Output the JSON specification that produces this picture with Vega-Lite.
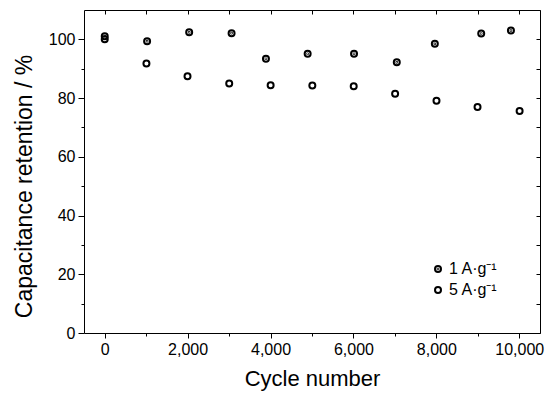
{
  "$schema": "https://vega.github.io/schema/vega-lite/v6.json",
  "width": 456,
  "height": 323,
  "autosize": {"type": "none"},
  "padding": {"left": 84, "top": 10, "right": 10, "bottom": 62},
  "background": "white",
  "config": {
    "font": "Liberation Sans",
    "view": {"stroke": null},
    "axis": {"grid": false, "domainColor": "black", "tickColor": "black", "labelColor": "black", "titleColor": "black", "labelFontSize": 16, "titleFontSize": 22, "titleFontWeight": "normal", "domainWidth": 1, "tickWidth": 1}
  },
  "data": {
    "values": [
      {"cycle": 0, "retention": 101.1, "series": "1 A·g⁻¹"},
      {"cycle": 1022, "retention": 99.4, "series": "1 A·g⁻¹"},
      {"cycle": 2037, "retention": 102.4, "series": "1 A·g⁻¹"},
      {"cycle": 3060, "retention": 102.1, "series": "1 A·g⁻¹"},
      {"cycle": 3889, "retention": 93.4, "series": "1 A·g⁻¹"},
      {"cycle": 4895, "retention": 95.1, "series": "1 A·g⁻¹"},
      {"cycle": 6014, "retention": 95.1, "series": "1 A·g⁻¹"},
      {"cycle": 7045, "retention": 92.2, "series": "1 A·g⁻¹"},
      {"cycle": 7963, "retention": 98.5, "series": "1 A·g⁻¹"},
      {"cycle": 9082, "retention": 102.0, "series": "1 A·g⁻¹"},
      {"cycle": 9799, "retention": 103.0, "series": "1 A·g⁻¹"},
      {"cycle": 0, "retention": 100.0, "series": "5 A·g⁻¹"},
      {"cycle": 1006, "retention": 91.8, "series": "5 A·g⁻¹"},
      {"cycle": 1997, "retention": 87.4, "series": "5 A·g⁻¹"},
      {"cycle": 3003, "retention": 85.0, "series": "5 A·g⁻¹"},
      {"cycle": 4002, "retention": 84.4, "series": "5 A·g⁻¹"},
      {"cycle": 5008, "retention": 84.3, "series": "5 A·g⁻¹"},
      {"cycle": 6006, "retention": 84.0, "series": "5 A·g⁻¹"},
      {"cycle": 7005, "retention": 81.5, "series": "5 A·g⁻¹"},
      {"cycle": 8003, "retention": 79.1, "series": "5 A·g⁻¹"},
      {"cycle": 8993, "retention": 77.0, "series": "5 A·g⁻¹"},
      {"cycle": 10008, "retention": 75.6, "series": "5 A·g⁻¹"}
    ]
  },
  "resolve": {"axis": {"x": "independent", "y": "independent"}},
  "layer": [
    {
      "mark": {"type": "point", "filled": false, "stroke": "black", "strokeWidth": 2, "size": 36, "opacity": 1},
      "encoding": {
        "x": {"field": "cycle", "type": "quantitative", "scale": {"domain": [-500, 10500], "nice": false, "zero": false},
          "axis": {"orient": "bottom", "title": "Cycle number", "values": [0, 2000, 4000, 6000, 8000, 10000], "format": ",.0f", "tickSize": 5, "labelPadding": 3, "titlePadding": 11}},
        "y": {"field": "retention", "type": "quantitative", "scale": {"domain": [0, 110], "nice": false},
          "axis": {"orient": "left", "title": "Capacitance retention / %", "titleFontSize": 23, "values": [0, 20, 40, 60, 80, 100], "tickSize": 6, "labelPadding": 3, "titleX": -60, "titleY": 176, "titleBaseline": "middle"}},
        "shape": {"field": "series", "type": "nominal",
          "scale": {"domain": ["1 A·g⁻¹", "5 A·g⁻¹"], "range": ["M-1,0A1,1,0,1,1,1,0A1,1,0,1,1,-1,0Z M-0.12,0A0.12,0.12,0,1,1,0.12,0A0.12,0.12,0,1,1,-0.12,0Z", "circle"]},
          "legend": {"orient": "none", "legendX": 346, "legendY": 251, "title": null, "labelFont": "Liberation Sans", "labelFontSize": 16, "labelColor": "black", "symbolStrokeColor": "black", "symbolFillColor": "transparent", "symbolStrokeWidth": 2, "symbolSize": 36, "rowPadding": 5, "labelOffset": 3}}
      }
    },
    {
      "mark": {"type": "point", "opacity": 0},
      "encoding": {
        "x": {"field": "cycle", "type": "quantitative",
          "axis": {"orient": "bottom", "title": null, "values": [1000, 3000, 5000, 7000, 9000], "labels": false, "domain": false, "tickSize": 3}},
        "y": {"field": "retention", "type": "quantitative",
          "axis": {"orient": "left", "title": null, "values": [10, 30, 50, 70, 90], "labels": false, "domain": false, "tickSize": 3}}
      }
    },
    {
      "mark": {"type": "point", "opacity": 0},
      "encoding": {
        "x": {"field": "cycle", "type": "quantitative",
          "axis": {"orient": "top", "title": null, "values": [0, 1000, 2000, 3000, 4000, 5000, 6000, 7000, 8000, 9000, 10000], "labels": false, "tickSize": -4}},
        "y": {"field": "retention", "type": "quantitative",
          "axis": {"orient": "right", "title": null, "values": [0, 10, 20, 30, 40, 50, 60, 70, 80, 90, 100, 110], "labels": false, "tickSize": -4}}
      }
    }
  ]
}
